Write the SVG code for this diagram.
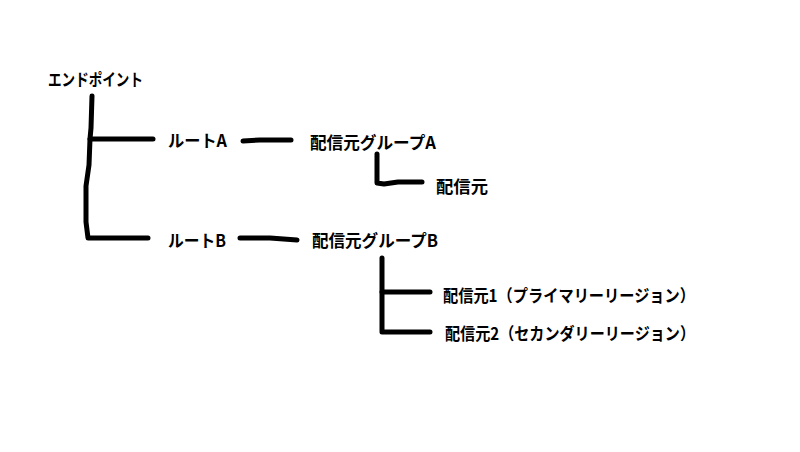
<svg xmlns="http://www.w3.org/2000/svg" width="800" height="452" viewBox="0 0 800 452">
<style>
.t{font-family:"Noto Sans CJK JP","Noto Sans",sans-serif;font-weight:bold;font-size:17px;fill:#000}
.c{fill:none;stroke:#000;stroke-width:5;stroke-linecap:round;stroke-linejoin:round}
</style>
<rect width="800" height="452" fill="#fff"/>
<g id="connectors">
<polyline class="c" points="92,96 91,128 90,139 89,165 86,186 86,222 88,238 148,238"/>
<polyline class="c" points="90,139 153,139"/>
<polyline class="c" points="243,141 260,140 291,140"/>
<polyline class="c" points="377,154 377,183 384,184 398,182 422,182"/>
<polyline class="c" points="240,238 270,238 297,240"/>
<polyline class="c" points="382,258 382,332 430,332"/>
<polyline class="c" points="382,292 430,292"/>
</g>
<g id="endpoint"><text class="t" x="48" y="86" textLength="95" lengthAdjust="spacingAndGlyphs">エンドポイント</text></g>
<g id="routeA"><text class="t" x="168" y="147" textLength="59" lengthAdjust="spacingAndGlyphs">ルートA</text></g>
<g id="groupA"><text class="t" x="310" y="149" textLength="126" lengthAdjust="spacingAndGlyphs">配信元グループA</text></g>
<g id="originA"><text class="t" x="436" y="193" textLength="52" lengthAdjust="spacingAndGlyphs">配信元</text></g>
<g id="routeB"><text class="t" x="168" y="247" textLength="58" lengthAdjust="spacingAndGlyphs">ルートB</text></g>
<g id="groupB"><text class="t" x="312" y="247" textLength="126" lengthAdjust="spacingAndGlyphs">配信元グループB</text></g>
<g id="origin1"><text class="t" x="443" y="302" textLength="252" lengthAdjust="spacingAndGlyphs">配信元1（プライマリーリージョン）</text></g>
<g id="origin2"><text class="t" x="445" y="340" textLength="250" lengthAdjust="spacingAndGlyphs">配信元2（セカンダリーリージョン）</text></g>
</svg>
